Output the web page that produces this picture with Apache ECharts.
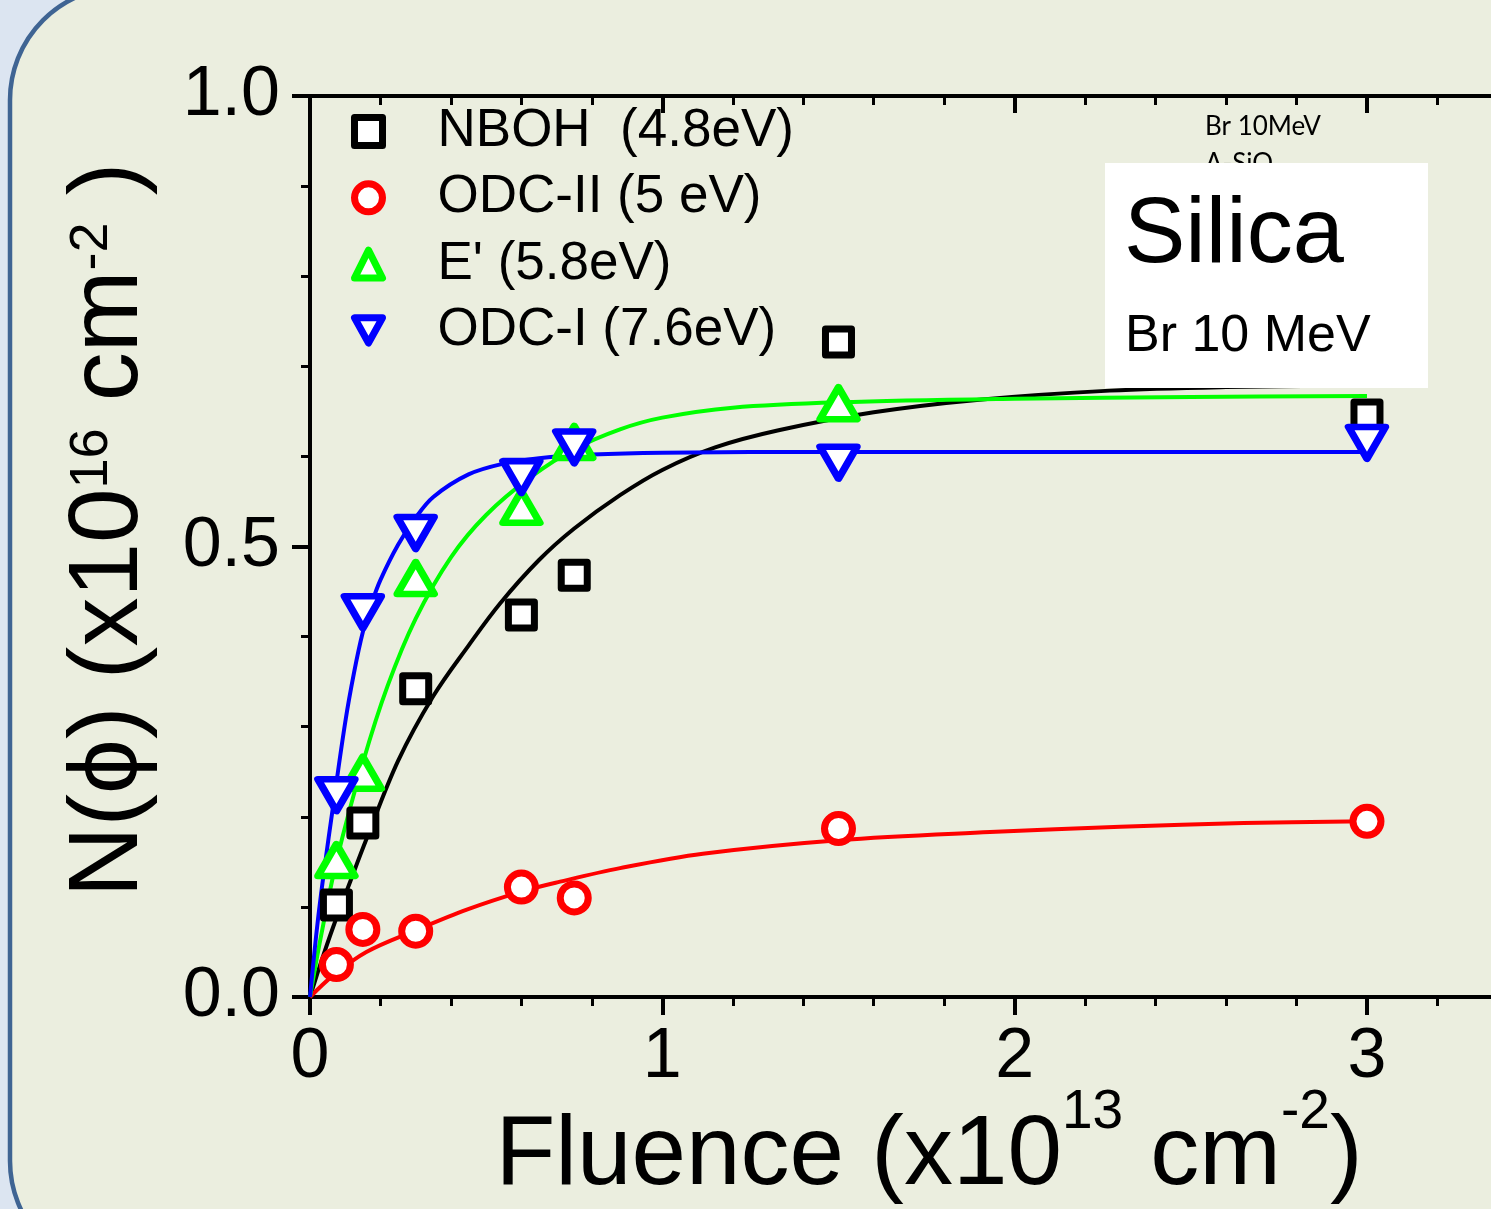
<!DOCTYPE html>
<html>
<head>
<meta charset="utf-8">
<script src="https://cdn.jsdelivr.net/npm/echarts@6/dist/echarts.min.js"></script>
<style>
  html, body { margin: 0; padding: 0; overflow: hidden; background: #DCE5F1; }
  #chart { width: 1740px; height: 1209px; }
</style>
</head>
<body>
<div id="chart"></div>
<script>
// Fluence values (x10^13 cm^-2) of the measured samples
const fluence = [0.075, 0.15, 0.3, 0.6, 0.75, 1.5, 3.0];
const fluenceE = [0.075, 0.15, 0.3, 0.6, 0.75, 1.5];

// Defect concentrations N(phi) (x10^16 cm^-2)
const nboh   = [0.102, 0.193, 0.342, 0.424, 0.468, 0.727, 0.646];
const odc2   = [0.036, 0.075, 0.073, 0.122, 0.110, 0.187, 0.195];
const eprime = [0.152, 0.249, 0.465, 0.544, 0.616, 0.659];
const odc1   = [0.224, 0.427, 0.515, 0.577, 0.610, 0.593, 0.615];

// Saturation fit curves (x, N) for each defect
const nbohFitX = [0, 0.03, 0.066, 0.114, 0.16, 0.25, 0.35, 0.45, 0.54, 0.65, 0.75, 0.88, 1.0, 1.15, 1.33, 1.6, 1.9, 2.27, 2.6, 3.0];
const nbohFitY = [0, 0.037, 0.078, 0.128, 0.175, 0.262, 0.334, 0.39, 0.437, 0.485, 0.52, 0.557, 0.585, 0.61, 0.629, 0.649, 0.663, 0.673, 0.677, 0.679];

const odc2FitX = [0, 0.066, 0.16, 0.3, 0.445, 0.6, 0.71, 0.88, 1.115, 1.5, 1.93, 2.3, 2.65, 3.0];
const odc2FitY = [0, 0.024, 0.05, 0.074, 0.097, 0.117, 0.128, 0.143, 0.159, 0.174, 0.183, 0.189, 0.193, 0.195];

const eprimeFitX = [0, 0.03, 0.076, 0.15, 0.22, 0.3, 0.4, 0.5, 0.63, 0.75, 0.88, 1.0, 1.2, 1.5, 2.0, 2.5, 3.0];
const eprimeFitY = [0, 0.065, 0.152, 0.26, 0.345, 0.42, 0.488, 0.535, 0.578, 0.608, 0.63, 0.643, 0.654, 0.66, 0.664, 0.666, 0.667];

const odc1FitX = [0, 0.02, 0.04, 0.066, 0.1, 0.125, 0.15, 0.175, 0.2, 0.25, 0.3, 0.35, 0.45, 0.55, 0.65, 0.8, 1.0, 1.5, 2.0, 3.0];
const odc1FitY = [0, 0.077, 0.14, 0.213, 0.305, 0.36, 0.405, 0.437, 0.463, 0.502, 0.532, 0.555, 0.58, 0.592, 0.598, 0.602, 0.604, 0.605, 0.605, 0.605];

const seriesNames = ['NBOH  (4.8eV)', 'ODC-II (5 eV)', "E' (5.8eV)", 'ODC-I (7.6eV)'];
const seriesColors = ['#000000', '#FF0000', '#00FF00', '#0000FF'];

const FONT = "'Liberation Sans', Arial, Helvetica, sans-serif";

function zip(xs, ys) { return xs.map((x, i) => [x, ys[i]]); }

const chart = echarts.init(document.getElementById('chart'), null, { renderer: 'canvas' });

const tickStyle = { color: '#000', width: 4 };
const minorStyle = { color: '#000', width: 3 };

function fitSeries(name, xs, ys, color) {
  return {
    type: 'line', name: name, data: zip(xs, ys),
    showSymbol: false, symbol: 'none', smooth: 0.35,
    lineStyle: { color: color, width: 4 }, z: 2, silent: true,
    emphasis: { disabled: true }
  };
}

function pointSeries(name, xs, ys, color, symbol, size) {
  return {
    type: 'scatter', name: name, data: zip(xs, ys),
    symbol: symbol, symbolSize: size,
    itemStyle: { color: '#FFFFFF', borderColor: color, borderWidth: 7, borderJoin: 'round', opacity: 1 },
    z: 3, silent: true, emphasis: { disabled: true }
  };
}

const option = {
  backgroundColor: 'transparent',
  animation: false,
  grid: { left: 310, top: 96, width: 1409.3, height: 901, outerBoundsMode: 'none', containLabel: false },
  xAxis: [
    {
      type: 'value', position: 'bottom', min: 0, max: 4, interval: 1,
      axisLine: { show: true, onZero: false, lineStyle: { color: '#000', width: 4 } },
      axisTick: { show: true, inside: false, length: 18, lineStyle: tickStyle },
      minorTick: { show: true, splitNumber: 5, length: 9, lineStyle: minorStyle },
      axisLabel: { show: true, color: '#000', fontSize: 70, fontFamily: FONT, margin: 26, lineHeight: 70 },
      splitLine: { show: false }, minorSplitLine: { show: false }
    },
    {
      type: 'value', position: 'top', min: 0, max: 4, interval: 1,
      axisLine: { show: true, onZero: false, lineStyle: { color: '#000', width: 4 } },
      axisTick: { show: true, inside: true, length: 17, lineStyle: tickStyle },
      minorTick: { show: true, splitNumber: 5, length: 9, lineStyle: minorStyle },
      axisLabel: { show: false },
      splitLine: { show: false }, minorSplitLine: { show: false }
    }
  ],
  yAxis: {
    type: 'value', min: 0, max: 1, interval: 0.5,
    axisLine: { show: true, onZero: false, lineStyle: { color: '#000', width: 4 } },
    axisTick: { show: true, inside: false, length: 18, lineStyle: tickStyle },
    minorTick: { show: true, splitNumber: 5, length: 9, lineStyle: minorStyle },
    axisLabel: {
      show: true, color: '#000', fontSize: 70, fontFamily: FONT, margin: 30,
      padding: [0, 0, 16, 0],
      formatter: v => v.toFixed(1)
    },
    splitLine: { show: false }, minorSplitLine: { show: false }
  },
  legend: {
    data: seriesNames,
    orient: 'vertical', left: 346, top: 100, padding: 5,
    itemWidth: 28, itemHeight: 28, itemGap: 13.3,
    selectedMode: false,
    itemStyle: { borderWidth: 7 },
    textStyle: { color: '#000', fontSize: 53, fontFamily: FONT, padding: [0, 0, 0, 50] }
  },
  series: [
    fitSeries('NBOH fit', nbohFitX, nbohFitY, seriesColors[0]),
    fitSeries('ODC-II fit', odc2FitX, odc2FitY, seriesColors[1]),
    fitSeries("E' fit", eprimeFitX, eprimeFitY, seriesColors[2]),
    fitSeries('ODC-I fit', odc1FitX, odc1FitY, seriesColors[3]),
    pointSeries(seriesNames[0], fluence, nboh, seriesColors[0], 'rect', 26),
    pointSeries(seriesNames[1], fluence, odc2, seriesColors[1], 'circle', 28),
    pointSeries(seriesNames[2], fluenceE, eprime, seriesColors[2], 'triangle', [37, 32]),
    pointSeries(seriesNames[3], fluence, odc1, seriesColors[3], 'path://M0,0L10,0L5,9Z', [37, 32])
  ],
  graphic: [
    // rounded panel behind the plot
    {
      type: 'rect', z: -10, silent: true,
      shape: { x: 10, y: -13, width: 3000, height: 1287, r: 113 },
      style: { fill: '#EBEEDF', stroke: '#3F6493', lineWidth: 4.5 }
    },
    // small note partly hidden by the label box
    {
      type: 'text', x: 1205, y: 127, z: 5, silent: true,
      style: { text: 'Br 10MeV', fill: '#000', fontSize: 26, fontFamily: "Lato, 'Open Sans', sans-serif", verticalAlign: 'middle', align: 'left' }
    },
    {
      type: 'text', x: 1205, y: 164, z: 5, silent: true,
      style: { text: 'A-SiO', fill: '#000', fontSize: 26, fontFamily: "Lato, 'Open Sans', sans-serif", verticalAlign: 'middle', align: 'left' }
    },
    // label box
    {
      type: 'rect', z: 50, silent: true,
      shape: { x: 1105, y: 163, width: 323, height: 225 },
      style: { fill: '#FFFFFF' }
    },
    {
      type: 'text', x: 1124, y: 237, z: 51, silent: true,
      style: { text: 'Silica', fill: '#000', fontSize: 92, fontFamily: FONT, verticalAlign: 'middle', align: 'left' }
    },
    {
      type: 'text', x: 1125, y: 337, z: 51, silent: true,
      style: { text: 'Br 10 MeV', fill: '#000', fontSize: 52, fontFamily: FONT, verticalAlign: 'middle', align: 'left' }
    },
    // x axis title
    {
      type: 'text', x: 929, y: 1157, z: 5, silent: true,
      style: {
        text: '{m|Fluence (x10}{s|13}{m| cm}{s|-2}{m|)}',
        align: 'center', verticalAlign: 'middle',
        rich: {
          m: { fontSize: 98, fontFamily: FONT, fill: '#000', lineHeight: 144 },
          s: { fontSize: 55, fontFamily: FONT, fill: '#000', lineHeight: 56, verticalAlign: 'top' }
        }
      }
    },
    // y axis title
    {
      type: 'text', x: 110, y: 530, rotation: Math.PI / 2, z: 5, silent: true,
      style: {
        text: '{m|N(\u03D5) (x10}{s|16}{m| cm}{s|-2}{m| )}',
        align: 'center', verticalAlign: 'middle',
        rich: {
          m: { fontSize: 98, fontFamily: FONT + ", 'DejaVu Sans'", fill: '#000', lineHeight: 90 },
          s: { fontSize: 54, fontFamily: FONT, fill: '#000', lineHeight: 54, verticalAlign: 'top' }
        }
      }
    }
  ]
};

chart.setOption(option);
</script>
</body>
</html>
